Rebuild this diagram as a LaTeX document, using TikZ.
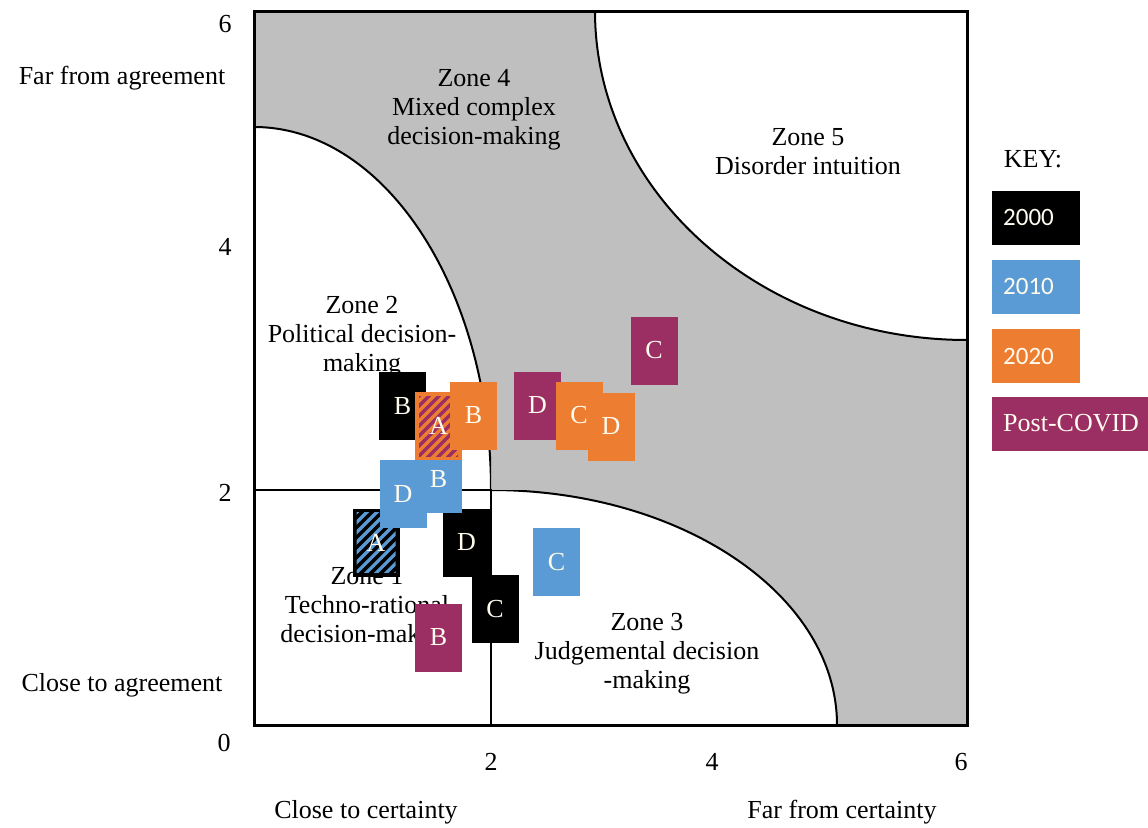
\documentclass[tikz,border=0pt]{standalone}
\usepackage{fontspec}
\setmainfont{Liberation Serif}
\newfontfamily\keyfont{Carlito}
\usetikzlibrary{calc}

\definecolor{zonegray}{RGB}{191,191,191}
\definecolor{yrA}{RGB}{0,0,0}
\definecolor{yrB}{RGB}{91,155,213}
\definecolor{yrC}{RGB}{237,125,49}
\definecolor{yrD}{RGB}{155,46,98}
\definecolor{labelwhite}{RGB}{255,251,238}

\begin{document}
\begin{tikzpicture}[x=1pt,y=-1pt,
  every node/.style={font=\fontsize{26}{29}\selectfont, inner sep=0pt},
  zonetext/.style={align=center},
  yearbox/.style={fill=#1, minimum width=47pt, minimum height=68pt, text=labelwhite},
  hatched/.style={path picture={
    \begin{scope}
      \clip ($(path picture bounding box.south west)+(4,-4)$) rectangle ($(path picture bounding box.north east)+(-4,4)$);
      \foreach \i in {-90,-80,...,60}
        \draw[#1, line width=3.2pt] ($(path picture bounding box.south west)+(\i,0)$) -- ++(100,-100);
    \end{scope}}},
  keybox/.style={fill=#1, anchor=west, minimum height=54pt, text width=66pt, inner xsep=11pt, align=left, text=labelwhite}
]
\useasboundingbox (0,0) rectangle (1148,827);

% grey background of the decision space
\fill[zonegray] (254,11) rectangle (967,725);

% Zone 2 (quarter ellipse, upper left)
\begin{scope}
  \clip (254,11) rectangle (491,490);
  \fill[white] (254,490) ellipse [x radius=237pt, y radius=363pt];
  \draw[line width=2pt] (254,490) ellipse [x radius=237pt, y radius=363pt];
\end{scope}
% Zone 1 (square, lower left)
\fill[white] (254,490) rectangle (491,725);
% Zone 3 (quarter ellipse, lower middle)
\begin{scope}
  \clip (491,490) rectangle (967,725);
  \fill[white] (491,725) ellipse [x radius=346pt, y radius=235pt];
  \draw[line width=2pt] (491,725) ellipse [x radius=346pt, y radius=235pt];
\end{scope}
% Zone 5 (quarter ellipse, upper right)
\begin{scope}
  \clip (254,11) rectangle (967,725);
  \fill[white] (967,11) ellipse [x radius=372pt, y radius=329pt];
  \draw[line width=2pt] (967,11) ellipse [x radius=372pt, y radius=329pt];
\end{scope}
\draw[line width=1.5pt] (254,490) -- (491,490) -- (491,725);
\draw[line width=3pt] (254,11) rectangle (967,725);

% zone captions
\node[zonetext] (z4) at (474,110) {Zone 4\\Mixed complex\\decision-making};
\node[zonetext] (z2) at (362,337) {Zone 2\\Political decision-\\making};
\node[zonetext] (z1) at (367,608) {Zone 1\\Techno-rational\\decision-making};
\node[zonetext] (z3) at (647,654) {Zone 3\\Judgemental decision\\-making};
\node[zonetext] (z5) at (808,152) {Zone 5\\Disorder intuition};

% axis labels and ticks
\node (yfar) at (122,78) {Far from agreement};
\node (yclose) at (122,685) {Close to agreement};
\node (xclose) at (366,812) {Close to certainty};
\node (xfar) at (842,812) {Far from certainty};
\node (ty6) at (225,24) {6};
\node (ty4) at (225,247) {4};
\node (ty2) at (225,493) {2};
\node (ty0) at (224,743) {0};
\node (tx2) at (491,762) {2};
\node (tx4) at (712,762) {4};
\node (tx6) at (961,762) {6};

% positions of the cases by period
\node[yearbox=yrA] (aD) at (466.5,542.5) {D};
\node[yearbox=yrB] (bB) at (438.5,479) {B};
\node[yearbox=yrA] (aB) at (402.5,406) {B};
\node[yearbox=yrC, hatched=yrD] (cA) at (438.5,426) {A};
\node[yearbox=yrC] (cB) at (473.5,415.5) {B};
\node[yearbox=yrA, hatched=yrB] (aA) at (376,542.5) {A};
\node[yearbox=yrB] (bD) at (403,494) {D};
\node[yearbox=yrA] (aC) at (495,609) {C};
\node[yearbox=yrD] (dB) at (438.5,637.5) {B};
\node[yearbox=yrB] (bC) at (556.5,562) {C};
\node[yearbox=yrD] (dD) at (537.5,405.5) {D};
\node[yearbox=yrC] (cC) at (579,415.5) {C};
\node[yearbox=yrC] (cD) at (611,426.5) {D};
\node[yearbox=yrD] (dC) at (654,350.5) {C};

% key
\node (keyt) at (1033,159) {KEY:};
\node[keybox=yrA, font=\keyfont\fontsize{25}{28}\selectfont] (k2000) at (992,217.5) {2000};
\node[keybox=yrB, font=\keyfont\fontsize{25}{28}\selectfont] (k2010) at (992,286.5) {2010};
\node[keybox=yrC, font=\keyfont\fontsize{25}{28}\selectfont] (k2020) at (992,356) {2020};
\node[keybox=yrD, text width=150pt] (kpost) at (992,423.5) {Post-COVID};
\end{tikzpicture}
\end{document}
